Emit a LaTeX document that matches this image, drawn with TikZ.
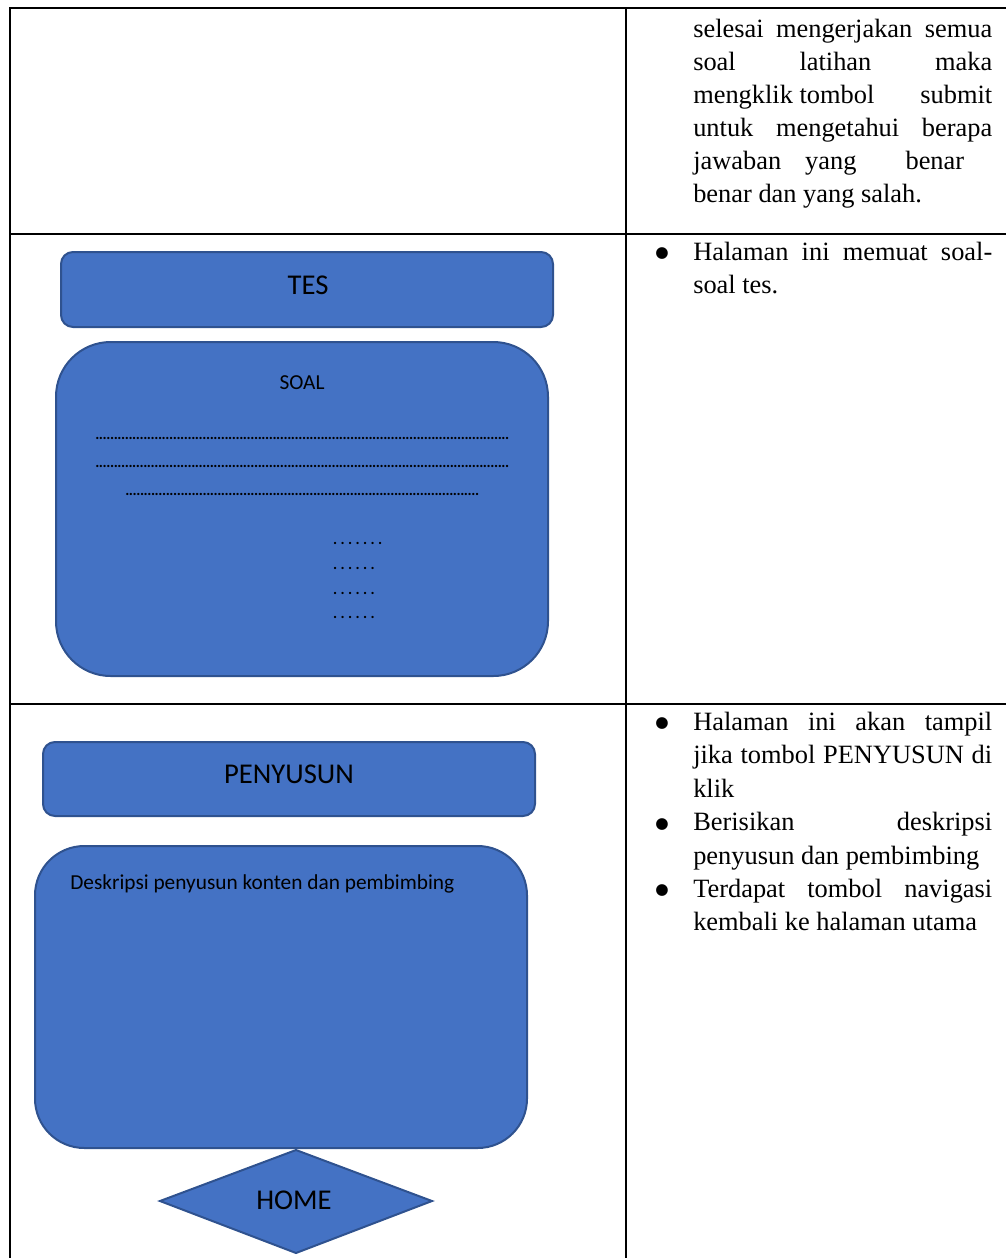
\documentclass[tikz,border=0pt]{standalone}
\usepackage{fontspec}
\setmainfont{Liberation Serif}
\setsansfont{Carlito}
\newfontfamily\symfont{DejaVu Sans}
\definecolor{boxblue}{HTML}{4472C4}
\definecolor{boxedge}{HTML}{2F528F}
% a row of periods set as leaders: total width, pitch
\newcommand{\periodrow}[2]{\hbox to #1{\xleaders\hbox to #2{\hss.\hss}\hfill}}
\newcommand{\jline}[1]{\makebox[224.25pt][s]{#1}}
\begin{document}
\begin{tikzpicture}[x=0.75pt,y=-0.75pt,
  rule/.style={line width=1.5pt},
  panel/.style={fill=boxblue, draw=boxedge, line width=1.5pt},
  rt/.style={font=\rmfamily\fontsize{19.8}{24}\selectfont, anchor=base west, inner sep=0pt},
  bul/.style={font=\symfont\fontsize{11.5}{14}\selectfont, anchor=center, inner sep=0pt},
  bigsans/.style={font=\sffamily\fontsize{21.5}{24}\selectfont, inner sep=0pt},
  smallsans/.style={font=\sffamily\fontsize{16}{19}\selectfont, inner sep=0pt},
  dots/.style={font=\sffamily\bfseries\fontsize{11.5}{12}\selectfont, anchor=base west, inner sep=0pt}
]
\useasboundingbox (0,0) rectangle (1006,1258);

% table rules
\draw[rule] (10,1258) -- (10,8) -- (1006,8);
\draw[rule] (626,8) -- (626,1258);
\draw[rule] (10,234) -- (1006,234);
\draw[rule] (10,704) -- (1006,704);

% ---- row 1: description text
\node[rt] (r1a) at (693,37) {\jline{selesai mengerjakan semua}};
\node[rt] (r1b) at (693,70) {\jline{soal latihan maka}};
\node[rt] (r1c) at (693,103) {\makebox[224.25pt][l]{mengklik tombol\hfill submit}};
\node[rt] (r1d) at (693,136) {\jline{untuk mengetahui berapa}};
\node[rt] (r1e) at (693,169) {jawaban\hspace{18pt}yang\hspace{36.75pt}benar};
\node[rt] (r1f) at (693,202) {benar dan yang salah.};

% ---- row 2: TES page
\draw[panel, rounded corners=9pt] (61,252) rectangle (553,327);
\node[bigsans] (tes) at (308,285) {TES};
\draw[panel, rounded corners=41pt] (56,342) rectangle (548,676);
\node[smallsans] (soal) at (302,383) {SOAL};
\node[dots] (d1) at (95.2,439) {\periodrow{310.3pt}{2.75pt}};
\node[dots] (d2) at (95.2,467) {\periodrow{310.3pt}{2.75pt}};
\node[dots] (d3) at (125.2,495) {\periodrow{265.2pt}{2.75pt}};
\node[dots] (d4) at (331.2,544) {\periodrow{39.4pt}{5.625pt}};
\node[dots] (d5) at (331.2,569) {\periodrow{33.75pt}{5.625pt}};
\node[dots] (d6) at (331.2,594) {\periodrow{33.75pt}{5.625pt}};
\node[dots] (d7) at (331.2,618) {\periodrow{33.75pt}{5.625pt}};

\node[bul] (b2a) at (662,254) {●};
\node[rt] (r2a) at (693,260.5) {\jline{Halaman ini memuat soal-}};
\node[rt] (r2b) at (693,293.9) {soal tes.};

% ---- row 3: PENYUSUN page
\draw[panel, rounded corners=9pt] (43,742) rectangle (535,816);
\node[bigsans] (peny) at (289,774) {PENYUSUN};
\draw[panel, rounded corners=37pt] (35,846) rectangle (527,1148);
\node[smallsans, anchor=west] (desc) at (70,884) {Deskripsi penyusun konten dan pembimbing};
\draw[panel] (296,1150) -- (432,1201) -- (296,1253) -- (160,1201) -- cycle;
\node[bigsans] (home) at (294,1200) {HOME};

\node[bul] (b3a) at (662,724) {●};
\node[rt] (r3a) at (693,730.5) {\jline{Halaman ini akan tampil}};
\node[rt] (r3b) at (693,763.9) {\jline{jika tombol PENYUSUN di}};
\node[rt] (r3c) at (693,797.3) {klik};
\node[bul] (b3b) at (662,824.2) {●};
\node[rt] (r3d) at (693,830.7) {\jline{Berisikan deskripsi}};
\node[rt] (r3e) at (693,864.1) {penyusun dan pembimbing};
\node[bul] (b3c) at (662,891) {●};
\node[rt] (r3f) at (693,897.5) {\jline{Terdapat tombol navigasi}};
\node[rt] (r3g) at (693,930.9) {kembali ke halaman utama};
\end{tikzpicture}
\end{document}
